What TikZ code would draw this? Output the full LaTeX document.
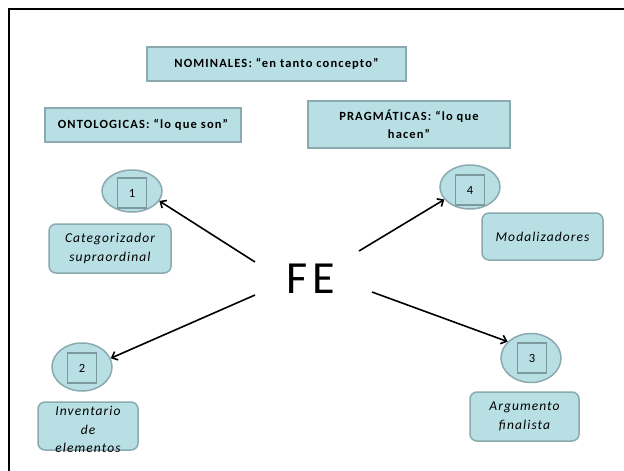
\documentclass[tikz,border=0pt]{standalone}
\usepackage{fontspec}
\setmainfont{Carlito}
\usetikzlibrary{shapes.geometric,arrows.meta}
\definecolor{boxfill}{RGB}{184,223,227}
\definecolor{boxline}{RGB}{138,170,175}
\begin{document}
\begin{tikzpicture}[x=1pt,y=-1pt,
  hbox/.style={draw=boxline,fill=boxfill,line width=1.5pt,inner sep=0pt,align=center,
    font=\fontsize{12.5}{18.5}\selectfont\bfseries\addfontfeatures{LetterSpace=9}},
  lbox/.style={draw=boxline,fill=boxfill,line width=1.5pt,inner sep=0pt,align=center,rounded corners=7pt,
    font=\fontsize{13.5}{18.5}\selectfont\itshape\addfontfeatures{LetterSpace=8}},
  oval/.style={ellipse,draw=boxline,fill=boxfill,line width=1.5pt,inner sep=0pt,minimum width=60pt,minimum height=46pt},
  numbox/.style={draw=boxline!90!black,fill=boxfill,line width=1.5pt,inner sep=0pt,minimum width=29pt,minimum height=30pt,
    font=\fontsize{12.5}{14}\selectfont},
  arr/.style={draw=black,line width=1.6pt,-{Straight Barb[length=5pt,width=9pt]}}
]
\useasboundingbox (0,0) rectangle (624,471);
\fill[white] (0,0) rectangle (624,471);
% frame
\draw[line width=2pt] (9,471) -- (9,8.5) -- (624,8.5);

% headings
\node[hbox,minimum width=259pt,minimum height=34pt] (nom) at (276.5,64) {NOMINALES: “en tanto concepto”};
\node[hbox,minimum width=196pt,minimum height=34pt] (ont) at (143,125) {ONTOLOGICAS: “lo que son”};
\node[hbox,minimum width=202pt,minimum height=47pt] (prag) at (409,124.5) {PRAGMÁTICAS: “lo que\\hacen”};

% ovals
\node[oval,minimum height=42pt] (e1) at (132,191) {};
\node[numbox] (n1) at (132,193) {1};
\node[oval,minimum height=44pt] (e4) at (470,187) {};
\node[numbox] (n4) at (470,190) {4};
\node[oval,minimum height=48pt] (e2) at (82,367) {};
\node[numbox] (n2) at (82,368) {2};
\node[oval,minimum height=49pt] (e3) at (531,358) {};
\node[numbox] (n3) at (532,358) {3};

% labels
\node[lbox,minimum width=122pt,minimum height=49pt] (l1) at (110,248.5) {Categorizador\\supraordinal};
\node[lbox,minimum width=121pt,minimum height=47pt] (l4) at (542.5,236.5) {Modalizadores};
\node[lbox,minimum width=100pt,minimum height=48pt] (l2) at (88,426) {};
\node[font=\fontsize{13.5}{18.5}\selectfont\itshape\addfontfeatures{LetterSpace=8},align=center,inner sep=0pt] (t2) at (88,429.5) {Inventario\\de\\elementos};
\node[lbox,minimum width=109pt,minimum height=49pt] (l3) at (524.5,416.5) {Argumento\\finalista};

% center
\node[font=\fontsize{46}{50}\selectfont\addfontfeatures{LetterSpace=10},inner sep=0pt] (fe) at (311,279) {FE};

\coordinate (s1) at (255,262);
\coordinate (s2) at (255,295);
\coordinate (s4) at (359,251);
\coordinate (s3) at (372,292);

\draw[arr] (s1) -- (e1.-20);
\draw[arr] (s2) -- (e2.17);
\draw[arr] (s4) -- (e4.-154);
\draw[arr] (s3) -- (e3.145);
\end{tikzpicture}
\end{document}
